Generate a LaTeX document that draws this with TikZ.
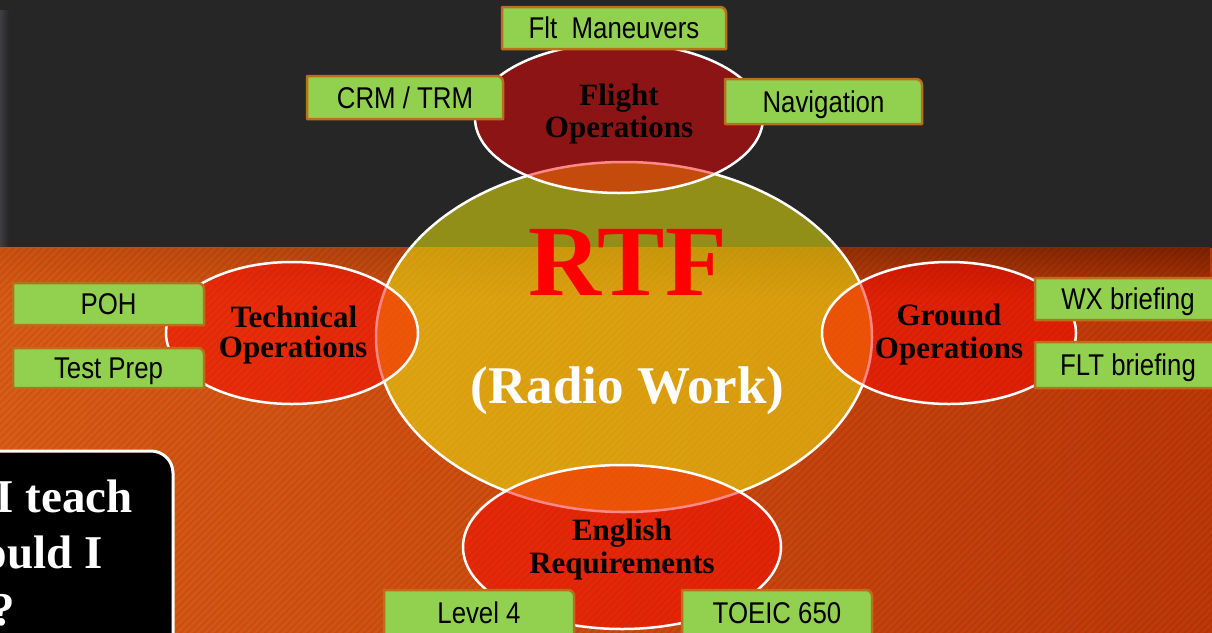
\documentclass[tikz,border=0pt]{standalone}
\usepackage{fontspec}
\setmainfont{Liberation Serif}
\newfontfamily\arialn[FakeStretch=0.86]{Liberation Sans}
\usetikzlibrary{fadings,patterns.meta,shapes.geometric}
\definecolor{darkbg}{RGB}{38,38,38}
\definecolor{orL}{RGB}{218,92,22}
\definecolor{orR}{RGB}{190,56,8}
\definecolor{shadL}{RGB}{205,82,18}
\definecolor{shadR}{RGB}{125,34,2}
\definecolor{rtfyel}{RGB}{236,231,16}
\definecolor{gfill}{RGB}{146,208,80}
\definecolor{gedge}{RGB}{184,112,26}
\definecolor{edgegray}{RGB}{62,62,68}
\pgfdeclarelayer{boxbg}
\pgfdeclarelayer{boxfg}
\pgfsetlayers{main,boxbg,boxfg}
\newcommand\gb[6]{%
  \begin{pgfonlayer}{boxfg}
    \node[gbox,minimum width=#4pt,minimum height=#5pt] (#1) at (#2,#3) {#6};
  \end{pgfonlayer}
  \begin{pgfonlayer}{boxbg}
    \path[gshape] (#1.south west) -- (#1.north west) -- ([xshift=-6pt]#1.north east)
      arc[start angle=90,end angle=0,radius=6pt] -- (#1.south east) -- cycle;
  \end{pgfonlayer}}
\begin{document}
\begin{tikzpicture}[x=1pt,y=-1pt,
  sat/.style={ellipse,draw=white,line width=2.5pt,fill=red,fill opacity=0.47,inner sep=0,outer sep=0},
  hub/.style={ellipse,draw=white,line width=2.5pt,fill=rtfyel,fill opacity=0.55,inner sep=0,outer sep=0},
  lbl/.style={font=\fontsize{31}{31}\selectfont\bfseries,text=black,anchor=base,inner sep=0},
  gbox/.style={font=\arialn\fontsize{30}{30}\selectfont,text=black,inner sep=0,outer sep=0,
    text height=21.5pt,text depth=0pt,align=center},
  gshape/.style={fill=gfill,draw=gedge,line width=2.5pt,line join=round},
  qline/.style={font=\fontsize{47}{47}\selectfont\bfseries,text=white,anchor=base east,inner sep=0}]
\useasboundingbox (0,0) rectangle (1212,632);
\clip (0,0) rectangle (1212,632);
% background
\fill[darkbg] (0,0) rectangle (1212,249);
\fill[edgegray,path fading=east] (0,10) rectangle (9,249);
\shade[left color=orL,right color=orR] (0,248) rectangle (1212,632);
\shade[left color=shadL,right color=shadR,path fading=south] (0,248) rectangle (1212,298);
\begin{scope}[transparency group,opacity=0.07]
\fill[pattern={Lines[angle=45,distance=5pt,line width=2pt]},pattern color=black]
  (0,248) rectangle (1212,632);
\end{scope}
% central ellipse
\node[hub,minimum width=496pt,minimum height=350pt] (hub) at (624,337) {};
% satellites
\node[sat,minimum width=288pt,minimum height=150pt] (flight) at (619,118) {};
\node[sat,minimum width=252pt,minimum height=142pt] (tech) at (292,333) {};
\node[sat,minimum width=254pt,minimum height=142pt] (ground) at (949,333) {};
\node[sat,minimum width=318pt,minimum height=164pt] (english) at (622,547) {};
% labels
\node[font=\fontsize{101}{101}\selectfont\bfseries,text=red,anchor=base,inner sep=0] (rtf) at (627.5,295) {RTF};
\node[font=\fontsize{53}{53}\selectfont\bfseries,text=white,anchor=base,inner sep=0] (radio) at (627.5,403) {(Radio Work)};
\node[lbl] (fl1) at (619,105) {Flight};
\node[lbl] (fl2) at (619,137) {Operations};
\node[lbl] (te1) at (294,327) {Technical};
\node[lbl] (te2) at (293,357) {Operations};
\node[lbl] (gr1) at (949,325) {Ground};
\node[lbl] (gr2) at (949,358) {Operations};
\node[lbl] (en1) at (622,540) {English};
\node[lbl] (en2) at (622,573) {Requirements};
% green boxes
\gb{fm}{614}{28}{224}{42}{Flt\ \ Maneuvers}
\gb{crm}{405}{97.5}{196}{43}{CRM / TRM}
\gb{nav}{823.5}{101.5}{197}{45}{Navigation}
\gb{poh}{108.5}{304}{191}{42}{POH}
\gb{tp}{108.5}{368}{191}{40}{Test Prep}
\gb{wx}{1128}{299}{186}{42}{WX briefing}
\gb{fltb}{1128}{365}{186}{46}{FLT briefing}
\gb{lv}{479}{612.5}{190}{45}{Level 4}
\gb{toeic}{777}{612.5}{190}{45}{TOEIC 650}
% question box
\node[draw=white,line width=3pt,fill=black,rounded corners=22pt,minimum width=213pt,minimum height=229pt,inner sep=0] (qbox) at (66.5,565.5) {};
\node[qline] (q1) at (133,512) {I teach};
\node[qline] (q2) at (103,568) {ould I};
\node[qline] (q3) at (15,625) {?};
\end{tikzpicture}
\end{document}
